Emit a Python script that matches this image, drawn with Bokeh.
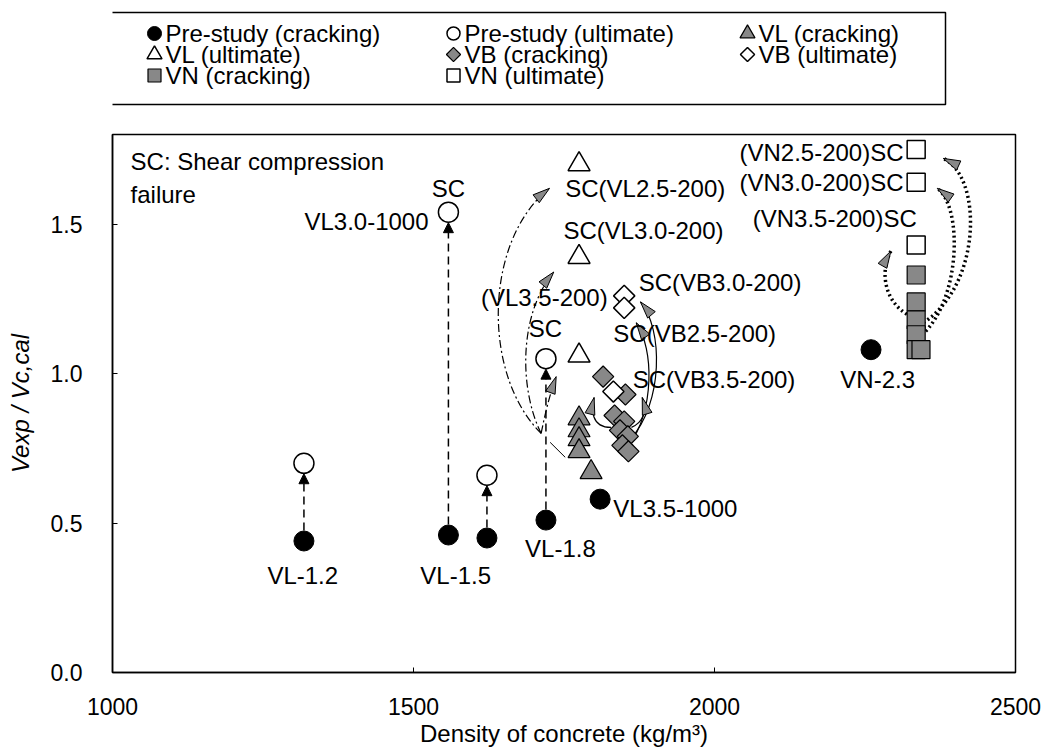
from bokeh.plotting import figure
from bokeh.layouts import column
from bokeh.models import (ColumnDataSource, Arrow, NormalHead, FixedTicker, Range1d,
                          NumeralTickFormatter)
from bokeh.core.properties import value
from bokeh.embed import file_html
from bokeh.resources import INLINE
import math

FONT = "Liberation Sans"
GRAY = "#888888"

# ---- measured shear ratios Vexp/Vc,cal against concrete density (kg/m3) ----
pre_crack_density = [1318, 1558, 1622, 1720, 1810, 2260]
pre_crack_ratio = [0.44, 0.46, 0.45, 0.51, 0.58, 1.08]
pre_ult_density = [1318, 1558, 1622, 1720]
pre_ult_ratio = [0.70, 1.54, 0.66, 1.05]

vl_crack_density = [1775, 1775, 1775, 1775, 1795]
vl_crack_ratio = [0.85, 0.81, 0.78, 0.74, 0.67]
vl_ult_density = [1775, 1775, 1775]
vl_ult_ratio = [1.70, 1.39, 1.06]

vb_crack_density = [1815, 1852, 1834, 1850, 1843, 1856, 1847, 1857]
vb_crack_ratio = [0.99, 0.93, 0.86, 0.84, 0.81, 0.79, 0.76, 0.74]
vb_ult_density = [1850, 1850, 1832]
vb_ult_ratio = [1.26, 1.22, 0.94]

vn_crack_density = [2335, 2335, 2335, 2335, 2335, 2343]
vn_crack_ratio = [1.33, 1.24, 1.18, 1.13, 1.08, 1.08]
vn_ult_density = [2335, 2335, 2335]
vn_ult_ratio = [1.75, 1.64, 1.43]

x_ticks = [1000, 1500, 2000, 2500]
y_ticks = [0.0, 0.5, 1.0, 1.5]

series_names = ["Pre-study (cracking)", "Pre-study (ultimate)", "VL (cracking)",
                "VL (ultimate)", "VB (cracking)", "VB (ultimate)",
                "VN (cracking)", "VN (ultimate)"]

# ---- specimen labels ----
left_labels = ["SC: Shear compression", "failure", "SC(VL2.5-200)", "SC(VL3.0-200)",
               "(VL3.5-200)", "SC(VB3.0-200)", "SC(VB2.5-200)", "SC(VB3.5-200)",
               "VL3.5-1000"]
left_label_x = [1030, 1030, 1752, 1749, 1612, 1874, 1832, 1864, 1832]
left_label_y = [1.71, 1.60, 1.62, 1.48, 1.255, 1.305, 1.134, 0.98, 0.55]

right_labels = ["VL3.0-1000", "(VN2.5-200)SC", "(VN3.0-200)SC", "(VN3.5-200)SC"]
right_label_x = [1525, 2314, 2314, 2336]
right_label_y = [1.51, 1.74, 1.64, 1.52]

center_labels = ["SC", "SC", "VL-1.2", "VL-1.5", "VL-1.8", "VN-2.3"]
center_label_x = [1558, 1719, 1316, 1570, 1744, 2271]
center_label_y = [1.62, 1.15, 0.325, 0.325, 0.415, 0.98]

# ---- connecting curves (start, control 1, control 2, end) ----
vl_curves = [
    ((1712, 0.80), (1612, 1.00), (1618, 1.45), (1726, 1.62)),
    ((1712, 0.80), (1675, 0.95), (1675, 1.20), (1733, 1.34)),
    ((1712, 0.80), (1720, 0.88), (1728, 0.94), (1737, 0.99)),
]
vb_curves = [
    ((1860, 0.78), (1915, 0.90), (1915, 1.15), (1877, 1.24)),
    ((1858, 0.76), (1900, 0.88), (1900, 1.08), (1870, 1.17)),
    ((1828, 0.82), (1795, 0.82), (1795, 0.88), (1800, 0.92)),
    ((1862, 0.82), (1885, 0.84), (1886, 0.88), (1880, 0.92)),
]
vn_curves = [
    ((2347, 1.17), (2445, 1.30), (2445, 1.66), (2380, 1.72)),
    ((2345, 1.13), (2410, 1.25), (2412, 1.56), (2370, 1.62)),
    ((2327, 1.19), (2278, 1.24), (2276, 1.35), (2293, 1.41)),
]

WIDTH = 1043
KEY_H = 130
MAIN_H = 754 - KEY_H
X_RANGE = (1000, 2500)
Y_RANGE = (0, 1.8)
BORDER_L, BORDER_R, BORDER_T, BORDER_B = 112, 28, 4, 82

# ---------------- main chart ----------------
p = figure(width=WIDTH, height=MAIN_H, output_backend="svg", toolbar_location=None,
           x_range=Range1d(*X_RANGE), y_range=Range1d(*Y_RANGE),
           min_border_left=BORDER_L, min_border_right=BORDER_R,
           min_border_top=BORDER_T, min_border_bottom=BORDER_B,
           background_fill_color="white", border_fill_color="white")
p.xgrid.visible = False
p.ygrid.visible = False
p.outline_line_color = "black"
p.outline_line_width = 1.5
p.outline_line_alpha = 1.0

# pixels per data unit, used to shape arrowheads in screen space
KX = (WIDTH - BORDER_L - BORDER_R) / (X_RANGE[1] - X_RANGE[0])
KY = (MAIN_H - BORDER_T - BORDER_B) / (Y_RANGE[1] - Y_RANGE[0])

for ax in (p.xaxis[0], p.yaxis[0]):
    ax.axis_line_color = "black"
    ax.axis_line_width = 1.5
    ax.major_tick_in = 5
    ax.major_tick_out = 0
    ax.major_tick_line_color = "black"
    ax.minor_tick_line_color = None
    ax.major_label_text_font = FONT
    ax.major_label_text_font_size = "23px"
    ax.major_label_text_color = "black"
    ax.axis_label_text_font = FONT
    ax.axis_label_text_font_size = "24px"
    ax.axis_label_text_color = "black"

p.xaxis.ticker = FixedTicker(ticks=x_ticks)
p.yaxis.ticker = FixedTicker(ticks=y_ticks)
p.yaxis.formatter = NumeralTickFormatter(format="0.0")
p.xaxis.major_label_standoff = 25
p.yaxis.major_label_standoff = 30
p.xaxis.axis_label = "Density of concrete (kg/m\u00b3)"
p.xaxis.axis_label_text_font_style = "normal"
p.xaxis.axis_label_standoff = 2
p.yaxis.axis_label = "Vexp / Vc,cal"
p.yaxis.axis_label_text_font_style = "italic"
p.yaxis.axis_label_standoff = 14


def head_patches(tips, tails, length=17, half_width=5):
    xs, ys = [], []
    for (xe, ye), (xc, yc) in zip(tips, tails):
        dx, dy = (xe - xc) * KX, (ye - yc) * KY
        n = math.hypot(dx, dy) or 1.0
        ux, uy = dx / n, dy / n
        bx, by = -ux * length, -uy * length
        nx, ny = -uy * half_width, ux * half_width
        xs.append([xe, xe + (bx + nx) / KX, xe + (bx - nx) / KX])
        ys.append([ye, ye + (by + ny) / KY, ye + (by - ny) / KY])
    return xs, ys


def add_curves(curves, dash, width):
    x0 = [c[0][0] for c in curves]
    y0 = [c[0][1] for c in curves]
    cx0 = [c[1][0] for c in curves]
    cy0 = [c[1][1] for c in curves]
    cx1 = [c[2][0] for c in curves]
    cy1 = [c[2][1] for c in curves]
    x1 = [c[3][0] for c in curves]
    y1 = [c[3][1] for c in curves]
    p.bezier(x0=x0, y0=y0, x1=x1, y1=y1, cx0=cx0, cy0=cy0, cx1=cx1, cy1=cy1,
             line_color="black", line_width=width, line_dash=dash)
    hx, hy = head_patches([c[3] for c in curves], [c[2] for c in curves])
    p.patches(hx, hy, fill_color=GRAY, line_color="black", line_width=1)


# dashed arrows from cracking to ultimate for the pre-study beams
n_pairs = len(pre_ult_density)
arrow_src = ColumnDataSource(dict(
    xs=pre_crack_density[:n_pairs],
    ys=[v + 0.035 for v in pre_crack_ratio[:n_pairs]],
    xe=pre_ult_density,
    ye=[v - 0.035 for v in pre_ult_ratio]))
p.add_layout(Arrow(x_start="xs", y_start="ys", x_end="xe", y_end="ye", source=arrow_src,
                   line_color="black", line_width=1.5, line_dash="8 5",
                   end=NormalHead(size=10, fill_color="black", line_color="black")))

add_curves(vl_curves, "8 3 2 3", 1.2)
p.segment(x0=[1727], y0=[0.77], x1=[1752], y1=[0.72], line_color="black", line_width=1)
add_curves(vb_curves, "solid", 1.2)
add_curves(vn_curves, "2 3", 3.5)

# marker styles shared by the chart and its key
styles = [
    dict(marker="circle", fill_color="black", line_color="black", line_width=1),
    dict(marker="circle", fill_color="white", line_color="black", line_width=1.5),
    dict(marker="triangle", fill_color=GRAY, line_color="black", line_width=1.2),
    dict(marker="triangle", fill_color="white", line_color="black", line_width=1.5),
    dict(marker="square", angle=math.pi / 4, fill_color=GRAY, line_color="black", line_width=1.2),
    dict(marker="square", angle=math.pi / 4, fill_color="white", line_color="black", line_width=1.5),
    dict(marker="square", fill_color=GRAY, line_color="black", line_width=1.2),
    dict(marker="square", fill_color="white", line_color="black", line_width=1.5),
]
chart_sizes = [20, 20, 22, 22, 15, 15, 18, 18]
key_sizes = [14, 13, 15, 15, 10, 10, 13, 13]

series = [
    (pre_crack_density, pre_crack_ratio), (pre_ult_density, pre_ult_ratio),
    (vl_crack_density, vl_crack_ratio), (vl_ult_density, vl_ult_ratio),
    (vb_crack_density, vb_crack_ratio), (vb_ult_density, vb_ult_ratio),
    (vn_crack_density, vn_crack_ratio), (vn_ult_density, vn_ult_ratio),
]
for (xs, ys), st, sz in zip(series, styles, chart_sizes):
    p.scatter(xs, ys, size=sz, **st)

text_style = dict(text_font=value(FONT), text_font_size="24px", text_color="black",
                  text_baseline="middle")
p.text(left_label_x, left_label_y, text=left_labels, text_align="left", **text_style)
p.text(right_label_x, right_label_y, text=right_labels, text_align="right", **text_style)
p.text(center_label_x, center_label_y, text=center_labels, text_align="center", **text_style)

# ---------------- key (legend) above the chart ----------------
# its frame lines up with the chart frame, so the range is set to page pixels
key = figure(width=WIDTH, height=KEY_H, output_backend="svg", toolbar_location=None,
             x_range=Range1d(BORDER_L, WIDTH - BORDER_R), y_range=Range1d(KEY_H, 0),
             min_border_left=BORDER_L, min_border_right=BORDER_R,
             min_border_top=0, min_border_bottom=0,
             background_fill_color="white", border_fill_color="white")
key.axis.visible = False
key.xgrid.visible = False
key.ygrid.visible = False
key.outline_line_color = None

box_left, box_right, box_top, box_bottom = 104, 945, 12, 104
key.quad(left=[box_left], right=[box_right], top=[box_top], bottom=[box_bottom],
         fill_color="white", line_color="black", line_width=1.5)
col_x = [154, 453, 747]
row_y = [33, 54, 75]
for i, (name, st, sz) in enumerate(zip(series_names, styles, key_sizes)):
    cx = col_x[i % 3]
    cy = row_y[i // 3]
    key.scatter([cx], [cy], size=sz, **st)
    key.text([cx + 11], [cy], text=[name], text_font=value(FONT), text_font_size="24px",
             text_color="black", text_baseline="middle", text_align="left")

layout = column(key, p, spacing=0)
open("out.html", "w").write(file_html(layout, INLINE))
